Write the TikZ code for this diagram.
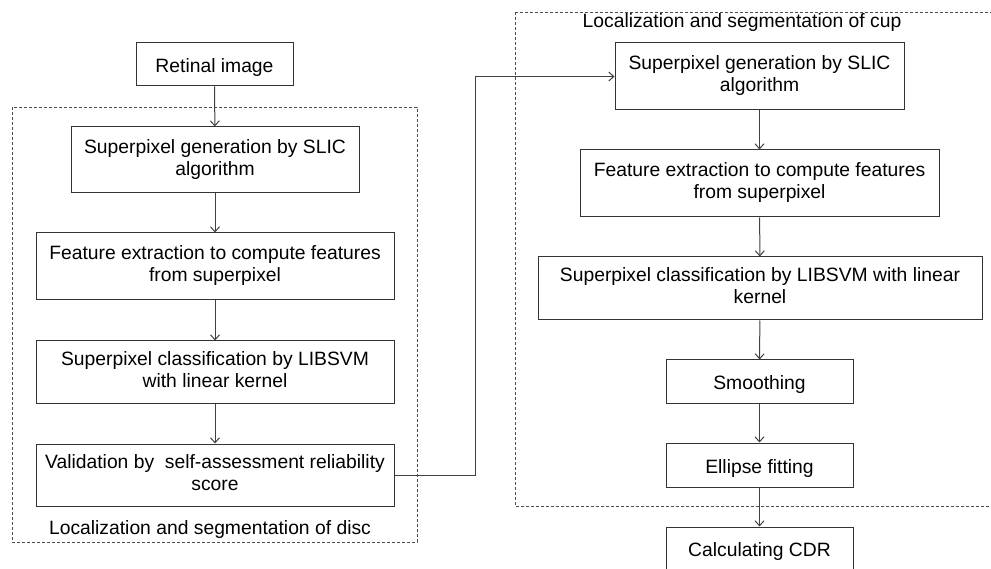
\documentclass[tikz,border=0pt]{standalone}
\usepackage{fontspec}
\setmainfont{Liberation Sans}
\usetikzlibrary{arrows.meta}
\begin{document}
\begin{tikzpicture}[x=1pt,y=-1pt,
  stepbox/.style={draw=black!80, line width=1pt, align=center, inner sep=0pt,
    font=\fontsize{19.3}{22}\selectfont,
    execute at begin node={\rule{0pt}{21pt}},
    execute at end node={\rule[-5pt]{0pt}{5pt}}},
  flow/.style={draw=black!75, line width=1pt, -{Straight Barb[length=5pt,width=9pt]}},
  group/.style={draw=black!70, line width=0.8pt, dash pattern=on 3pt off 2pt},
  grouplabel/.style={font=\fontsize{19.3}{22}\selectfont, inner sep=0pt}]
\useasboundingbox (0,0) rectangle (991,569);
\begin{scope}
\clip (0,0) rectangle (991,569);

% dashed group frames
\draw[group] (12,107) rectangle (417,542);
\draw[group] (515,12) rectangle (1000,506);
\node[grouplabel] (disclabel) at (210,530) {Localization and segmentation of disc};
\node[grouplabel] (cuplabel) at (742,23) {Localization and segmentation of cup};

% optic disc branch
\node[stepbox, minimum width=157pt, minimum height=43pt] (retina) at (214.5,64.5) {Retinal image};
\node[stepbox, minimum width=288pt, minimum height=66pt] (dslic) at (215,160) {Superpixel generation by SLIC\\algorithm};
\node[stepbox, minimum width=358pt, minimum height=67pt] (dfeat) at (215,266.5) {Feature extraction to compute features\\from superpixel};
\node[stepbox, minimum width=358pt, minimum height=62pt] (dclass) at (215,372) {Superpixel classification by LIBSVM\\with linear kernel};
\node[stepbox, minimum width=358pt, minimum height=62pt] (dvalid) at (215,475) {Validation by\ \ self-assessment reliability\\score};

% optic cup branch
\node[stepbox, minimum width=289pt, minimum height=67pt] (cslic) at (759.5,76.5) {Superpixel generation by SLIC\\algorithm};
\node[stepbox, minimum width=359pt, minimum height=67pt] (cfeat) at (759.5,183.5) {Feature extraction to compute features\\from superpixel};
\node[stepbox, minimum width=444pt, minimum height=63pt] (cclass) at (760,288.5) {Superpixel classification by LIBSVM with linear\\kernel};
\node[stepbox, minimum width=187pt, minimum height=43pt] (smooth) at (759.5,381.5) {Smoothing};
\node[stepbox, minimum width=187pt, minimum height=44pt] (ellipse) at (759.5,465) {Ellipse fitting};
\node[stepbox, minimum width=187pt, minimum height=43pt] (cdr) at (759.5,548.5) {Calculating CDR};

% connectors
\draw[flow] (retina) -- (dslic);
\draw[flow] (dslic) -- (dfeat);
\draw[flow] (dfeat) -- (dclass);
\draw[flow] (dclass) -- (dvalid);
\draw[flow] (dvalid.east) -- (475,475) |- (cslic.west);
\draw[flow] (cslic) -- (cfeat);
\draw[flow] (cfeat) -- (cclass);
\draw[flow] (cclass) -- (smooth);
\draw[flow] (smooth) -- (ellipse);
\draw[flow] (ellipse) -- (cdr);
\end{scope}
\end{tikzpicture}
\end{document}
